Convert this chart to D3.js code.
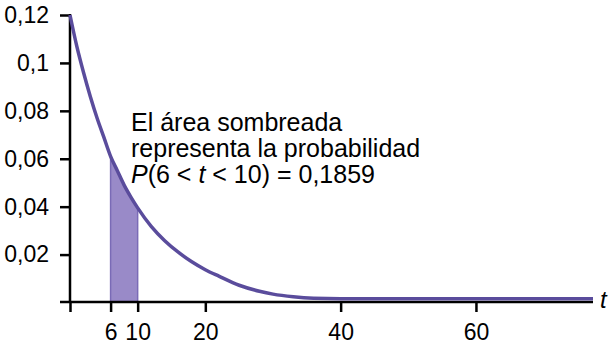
<!DOCTYPE html>
<html>
<head>
<meta charset="utf-8">
<script src="https://cdn.jsdelivr.net/npm/d3@7"></script>
<style>
  body { margin: 0; background: #fff; }
  svg { font-family: "Liberation Sans", Arial, sans-serif; }
</style>
</head>
<body>
<svg width="609" height="351"></svg>
<script>
// values
var tVals = [0, 1, 2, 3, 4, 5, 6, 7, 8, 9, 10, 12, 14, 16, 18, 20, 22, 25, 28, 30, 33, 36, 40, 77.3];
var density = [0.12, 0.107, 0.096, 0.086, 0.077, 0.069, 0.061, 0.055, 0.049, 0.044, 0.0395,
               0.0318, 0.0258, 0.021, 0.017, 0.0137, 0.011, 0.0072, 0.0047, 0.0035, 0.0024, 0.0018, 0.0016, 0.0016];
var xTicks = [0, 6, 10, 20, 40, 60];
var xTickLabels = ["", "6", "10", "20", "40", "60"];
var yTicks = [0.02, 0.04, 0.06, 0.08, 0.1, 0.12];
var shadeFrom = 6, shadeTo = 10;
var noteLines = ["El área sombreada", "representa la probabilidad"];

var lineColor = "#5a4c9c";
var fillColor = "#998ac8";

var svg = d3.select("svg");

var x = d3.scaleLinear().domain([0, 77.3]).range([70, 593]);
var y = d3.scaleLinear().domain([0, 0.12]).range([302.5, 15]);

var pts = tVals.map(function(t, i) { return {t: t, v: density[i]}; });

// shaded area 6..10
var shadePts = pts.filter(function(d) { return d.t >= shadeFrom && d.t <= shadeTo; });
var area = d3.area()
    .x(function(d) { return x(d.t); })
    .y0(y(0))
    .y1(function(d) { return y(d.v); })
    .curve(d3.curveMonotoneX);
svg.append("path")
    .datum(shadePts)
    .attr("d", area)
    .attr("fill", fillColor);
[shadeFrom, shadeTo].forEach(function(t) {
    var v = pts.find(function(d) { return d.t === t; }).v;
    svg.append("line")
        .attr("x1", x(t)).attr("x2", x(t))
        .attr("y1", y(0)).attr("y2", y(v))
        .attr("stroke", "#7a6bb6")
        .attr("stroke-width", 1.5);
});

// y axis
var yAxis = d3.axisLeft(y).tickValues(yTicks)
    .tickFormat(function(d) { return String(+d.toFixed(2)).replace(".", ","); })
    .tickSize(10).tickPadding(11);
var gy = svg.append("g").attr("transform", "translate(70,0)").call(yAxis);
gy.select(".domain").remove();
gy.append("line").attr("x1", 0).attr("x2", 0).attr("y1", 14).attr("y2", 303)
    .attr("stroke", "#000").attr("stroke-width", 2.5);
gy.selectAll(".tick line").attr("stroke", "#000").attr("stroke-width", 2.5);
gy.selectAll(".tick text").attr("font-size", 23).attr("fill", "#000")
    .attr("font-family", "Liberation Sans, Arial, sans-serif");

// x axis
var xAxis = d3.axisBottom(x).tickValues(xTicks)
    .tickFormat(function(d, i) { return xTickLabels[i]; })
    .tickSize(10).tickPadding(12);
var gx = svg.append("g").attr("transform", "translate(0,302)").call(xAxis);
gx.select(".domain").remove();
gx.append("line").attr("x1", 60).attr("x2", 593).attr("y1", 0).attr("y2", 0)
    .attr("stroke", "#000").attr("stroke-width", 2.5);
gx.selectAll(".tick line").attr("stroke", "#000").attr("stroke-width", 2.5);
gx.selectAll(".tick text").attr("font-size", 23).attr("fill", "#000")
    .attr("font-family", "Liberation Sans, Arial, sans-serif");

svg.append("text")
    .attr("x", 600).attr("y", 308)
    .attr("font-size", 24).attr("font-style", "italic")
    .text("t");

// curve
var line = d3.line()
    .x(function(d) { return x(d.t); })
    .y(function(d) { return y(d.v); })
    .curve(d3.curveMonotoneX);
svg.append("path")
    .datum(pts)
    .attr("d", line)
    .attr("fill", "none")
    .attr("stroke", lineColor)
    .attr("stroke-width", 3.5);

// annotation
var note = svg.append("g").attr("font-size", 25).attr("fill", "#000");
noteLines.forEach(function(s, i) {
    note.append("text").attr("x", 131).attr("y", 131 + i * 26).text(s);
});
var p = note.append("text").attr("x", 131).attr("y", 183);
p.append("tspan").attr("font-style", "italic").text("P");
p.append("tspan").text("(6 < ");
p.append("tspan").attr("font-style", "italic").text("t");
p.append("tspan").text(" < 10) = 0,1859");
</script>
</body>
</html>
